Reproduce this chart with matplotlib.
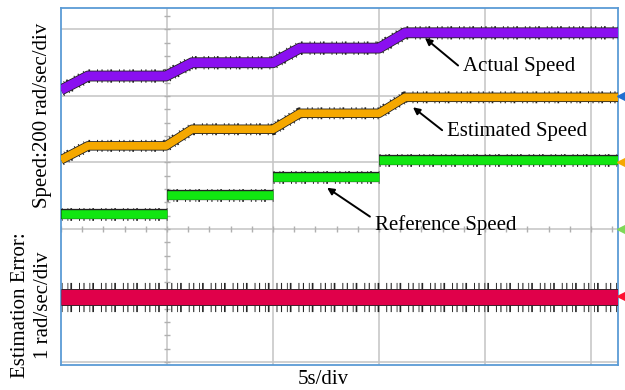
import matplotlib
matplotlib.use("Agg")
import matplotlib.pyplot as plt
import matplotlib.patheffects as pe
import numpy as np

# -- data (time in s, amplitude in scope divisions) ---------------------------
t_speed = [0.0, 1.27, 4.95, 6.18, 10.0, 11.27, 15.0, 16.23, 26.3]
actual_speed = [4.09, 4.30, 4.30, 4.50, 4.50, 4.72, 4.72, 4.95, 4.95]
estimated_speed = [3.04, 3.25, 3.25, 3.50, 3.50, 3.74, 3.74, 3.98, 3.98]

# reference speed is piecewise constant: one segment per step
ref_edges = [0.0, 4.98, 10.0, 15.0, 26.3]
reference_speed = [2.23, 2.51, 2.78, 3.04]

t_err = [0.0, 26.3]
estimation_error = [0.98, 0.98]

# channel offset markers on the right edge
marker_levels = [4.0, 3.0, 2.0, 1.0]
marker_colors = ["#1f6fd0", "#f5a800", "#7ed957", "#ff1030"]

plt.rcParams["font.family"] = ["Liberation Serif", "DejaVu Serif"]
plt.rcParams["lines.scale_dashes"] = False

fig = plt.figure(figsize=(6.25, 3.9), dpi=100)
ax = fig.add_axes([61 / 625, 1 - 365 / 390, 557 / 625, 357 / 390])
ax.set_xlim(0, 26.27)
ax.set_ylim(-0.045, 5.323)

# scope graticule
for xv in np.arange(5, 26, 5):
    ax.axvline(xv, color="#c4c4c4", lw=1.1, zorder=0)
for yv in np.arange(0, 6, 1):
    ax.axhline(yv, color="#c4c4c4", lw=1.1, zorder=0)
xt = np.arange(0, 26.3, 1.0)
ax.plot(xt, np.full(xt.size, 2.0), "|", color="#b0b0b0", ms=4, zorder=0)
yt = np.arange(0, 5.3, 0.2)
ax.plot(np.full(yt.size, 5.0), yt, "_", color="#b0b0b0", ms=4, zorder=0)


def trace(x, y, color, lw, spread):
    # black noise fringe, then the coloured band with a dark edge
    ax.plot(x, y, color="black", lw=lw + spread, solid_capstyle="butt",
            dashes=(0.8, 3.5, 0.6, 1.5, 1.2, 5, 0.7, 2.5), alpha=0.85,
            zorder=2)
    ax.plot(x, y, color=color, lw=lw, solid_capstyle="butt", zorder=3,
            path_effects=[pe.Stroke(linewidth=lw + 1.2, foreground="#222222"),
                          pe.Normal()])


trace(t_speed, actual_speed, "#8a10f0", 6.6, 3.0)
trace(t_speed, estimated_speed, "#f5a800", 5.6, 3.0)
for i, lvl in enumerate(reference_speed):
    trace(ref_edges[i:i + 2], [lvl, lvl], "#11e611", 6.2, 3.0)
trace(t_err, estimation_error, "#e0004a", 11.0, 10.0)

for lvl, c in zip(marker_levels, marker_colors):
    ax.plot(26.27 + 0.12, lvl, marker="<", color=c, ms=6, clip_on=False,
            zorder=5)

for s in ax.spines.values():
    s.set_color("#5b9bd5")
    s.set_linewidth(1.3)
ax.set_xticks([])
ax.set_yticks([])

arrow = dict(arrowstyle="-|>", color="black", lw=1.4, mutation_scale=10,
             shrinkA=2, shrinkB=0, relpos=(0.0, 0.35))
ax.annotate("Actual Speed", xy=(17.17, 4.87), xytext=(18.96, 4.44),
            fontsize=15, ha="left", va="center", arrowprops=arrow)
ax.annotate("Estimated Speed", xy=(16.6, 3.83), xytext=(18.21, 3.47),
            fontsize=15, ha="left", va="center", arrowprops=arrow)
ax.annotate("Reference Speed", xy=(12.55, 2.62), xytext=(14.81, 2.06),
            fontsize=15, ha="left", va="center",
            arrowprops=dict(arrow, relpos=(0.0, 0.75)))

fig.text(43 / 625, 1 - 115 / 390, "Speed:200 rad/sec/div", rotation=90,
         fontsize=15, ha="center", va="center")
fig.text(32 / 625, 1 - 305 / 390, "Estimation Error:\n1 rad/sec/div",
         rotation=90, fontsize=15, ha="center", va="center", linespacing=1.3)
fig.text(323 / 625, 1 - 380 / 390, "5s/div", fontsize=15, ha="center",
         va="center")

fig.savefig("out.png", dpi=100)
